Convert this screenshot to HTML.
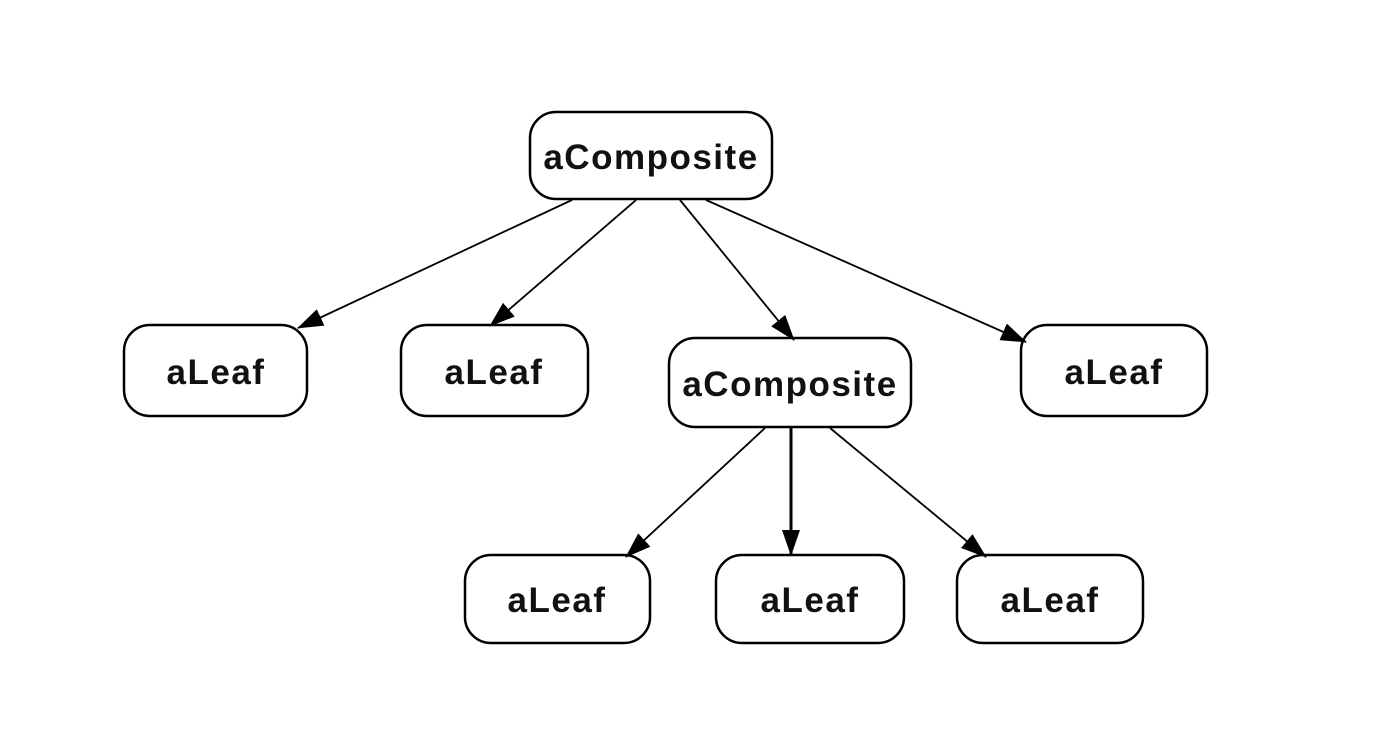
<!DOCTYPE html>
<html><head><style>html,body{margin:0;padding:0;background:#fff;}svg{display:block}</style></head>
<body>
<svg width="1384" height="750" viewBox="0 0 1384 750" xmlns="http://www.w3.org/2000/svg">
<defs>
<marker id="ah" markerWidth="26" markerHeight="18" refX="25" refY="9" orient="auto" markerUnits="userSpaceOnUse">
<path d="M0,0 L26,9 L0,18 Z" fill="#000"/>
</marker>
</defs>
<g fill="none" stroke="#000" stroke-width="2.5">
<rect x="530" y="112" width="242" height="87" rx="26"/>
<rect x="124" y="325" width="183" height="91" rx="26"/>
<rect x="401" y="325" width="187" height="91" rx="26"/>
<rect x="669" y="338" width="242" height="89" rx="26"/>
<rect x="1021" y="325" width="186" height="91" rx="26"/>
<rect x="465" y="555" width="185" height="88" rx="26"/>
<rect x="716" y="555" width="188" height="88" rx="26"/>
<rect x="957" y="555" width="186" height="88" rx="26"/>
</g>
<g stroke="#000" stroke-width="1.8" fill="none">
<line x1="572" y1="200" x2="298" y2="328" marker-end="url(#ah)"/>
<line x1="636" y1="200" x2="490" y2="326" marker-end="url(#ah)"/>
<line x1="680" y1="200" x2="794" y2="340" marker-end="url(#ah)"/>
<line x1="706" y1="200" x2="1026" y2="342" marker-end="url(#ah)"/>
<line x1="765" y1="428" x2="626" y2="557" marker-end="url(#ah)"/>
<line x1="791" y1="428" x2="791" y2="555" stroke-width="3" marker-end="url(#ah)"/>
<line x1="830" y1="428" x2="986" y2="557" marker-end="url(#ah)"/>
</g>
<g font-family="'Liberation Sans', sans-serif" font-weight="bold" font-size="35" letter-spacing="1.5" fill="#111" text-anchor="middle">
<text x="651" y="169">aComposite</text>
<text x="216" y="384">aLeaf</text>
<text x="494" y="384">aLeaf</text>
<text x="790" y="396">aComposite</text>
<text x="1114" y="384">aLeaf</text>
<text x="557" y="612">aLeaf</text>
<text x="810" y="612">aLeaf</text>
<text x="1050" y="612">aLeaf</text>
</g>
</svg>
</body></html>
